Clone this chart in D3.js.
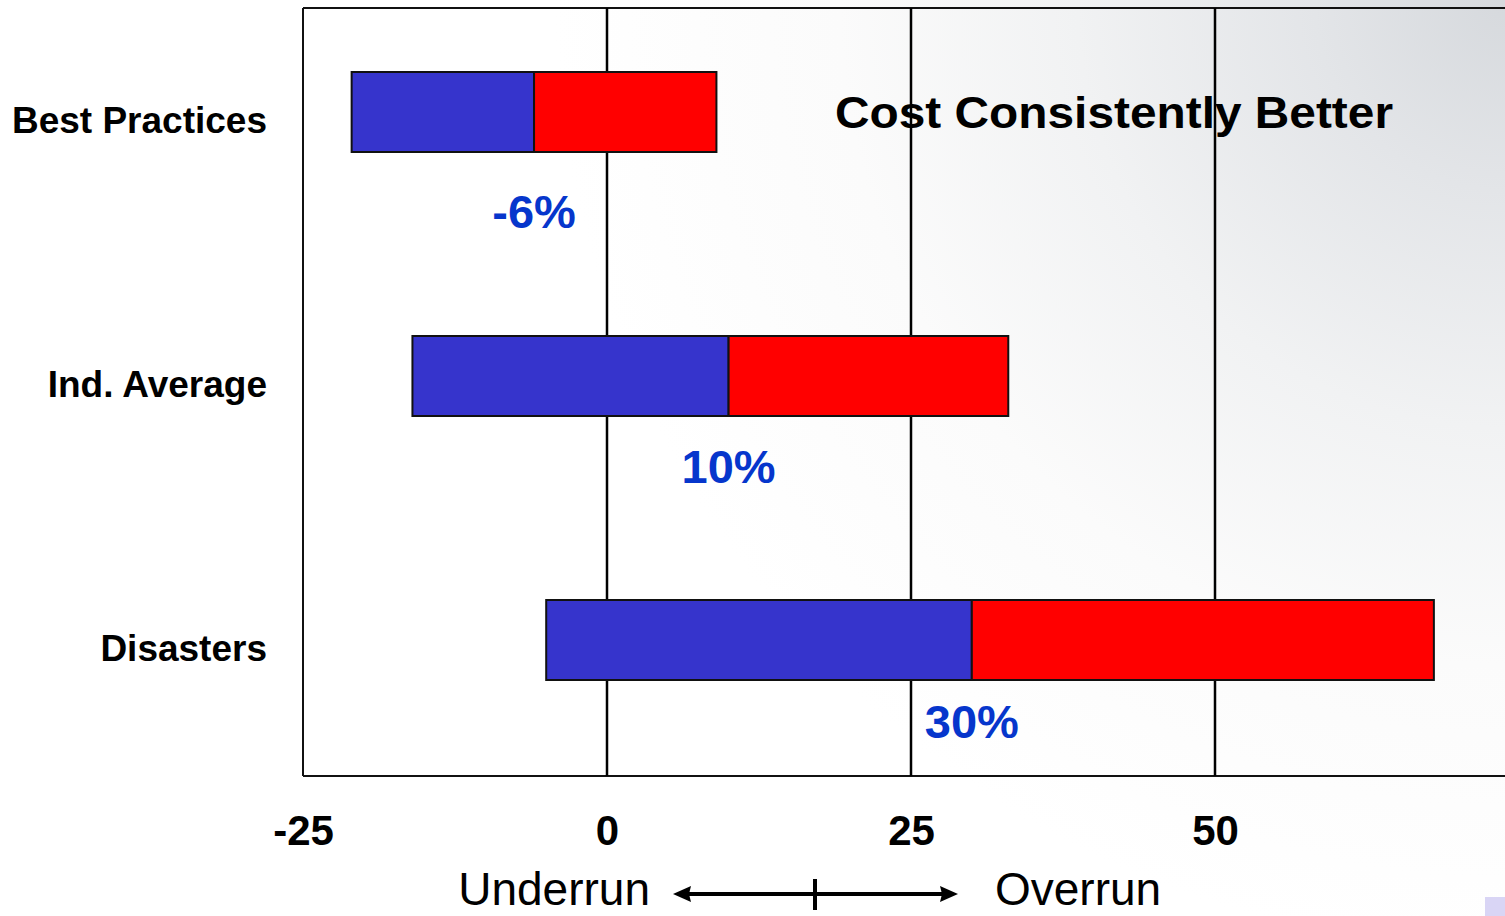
<!DOCTYPE html>
<html>
<head>
<meta charset="utf-8">
<script src="https://cdn.jsdelivr.net/npm/d3@7/dist/d3.min.js"></script>
<style>
  html, body { margin: 0; padding: 0; overflow: hidden; background: #fff; }
  svg { display: block; }
  text { font-family: "Liberation Sans", Arial, sans-serif; }
</style>
</head>
<body>
<svg id="chart" width="1505" height="916"></svg>
<script>
// Cost performance ranges (% over/under budget) by project group
const categories = ["Best Practices", "Ind. Average", "Disasters"];
const rangeLow   = [-21, -16, -5];
const rangeMid   = [-6, 10, 30];
const rangeHigh  = [9, 33, 68];
const midLabels  = ["-6%", "10%", "30%"];
const xTicks     = [-25, 0, 25, 50];
const gridValues = [0, 25, 50];
const title      = "Cost Consistently Better";

const W = 1505, H = 916;
const plot = { left: 303, top: 8, bottom: 776 };

const svg = d3.select("#chart");

// page background: soft grey wash from the upper right corner
const defs = svg.append("defs");
const bg = defs.append("radialGradient").attr("id", "bgGrad")
  .attr("gradientUnits", "userSpaceOnUse")
  .attr("cx", W).attr("cy", 0).attr("r", 950);
bg.append("stop").attr("offset", "0").attr("stop-color", "#d6d9dd");
bg.append("stop").attr("offset", "0.2").attr("stop-color", "#e3e5e8");
bg.append("stop").attr("offset", "0.45").attr("stop-color", "#f1f2f3");
bg.append("stop").attr("offset", "0.7").attr("stop-color", "#fbfbfb");
bg.append("stop").attr("offset", "1").attr("stop-color", "#ffffff");
svg.append("rect").attr("width", W).attr("height", H).attr("fill", "url(#bgGrad)");

const x = d3.scaleLinear().domain([-25, 75]).range([plot.left, plot.left + 1216]);
const yBar = d3.scalePoint().domain(categories).range([112, 640]);
const yCat = d3.scalePoint().domain(categories).range([133, 661]);
const yPct = d3.scalePoint().domain(categories).range([228, 738]);
const barH = 80;

// plot frame
const frame = svg.append("g");
frame.append("line").attr("x1", plot.left).attr("x2", W + 10)
  .attr("y1", plot.top).attr("y2", plot.top);
frame.append("line").attr("x1", plot.left).attr("x2", W + 10)
  .attr("y1", plot.bottom).attr("y2", plot.bottom);
frame.append("line").attr("x1", plot.left).attr("x2", plot.left)
  .attr("y1", plot.top).attr("y2", plot.bottom);
frame.selectAll("line").attr("stroke", "#111").attr("stroke-width", 2);

// vertical gridlines
svg.append("g").selectAll("line").data(gridValues).join("line")
  .attr("x1", d => x(d)).attr("x2", d => x(d))
  .attr("y1", plot.top).attr("y2", plot.bottom)
  .attr("stroke", "#000").attr("stroke-width", 2.5);

// title
svg.append("text")
  .attr("x", 835).attr("y", 128)
  .attr("font-size", 44).attr("font-weight", "bold")
  .attr("textLength", 558).attr("lengthAdjust", "spacingAndGlyphs")
  .attr("fill", "#000")
  .text(title);

const rows = categories.map((c, i) => ({
  cat: c, lo: rangeLow[i], mid: rangeMid[i], hi: rangeHigh[i], label: midLabels[i]
}));

// low-to-median segment (blue) and median-to-high segment (red)
const bars = svg.append("g");
bars.selectAll("rect.lo").data(rows).join("rect").attr("class", "lo")
  .attr("x", d => x(d.lo)).attr("width", d => x(d.mid) - x(d.lo))
  .attr("y", d => yBar(d.cat) - barH / 2).attr("height", barH)
  .attr("fill", "#3634cc").attr("stroke", "#111").attr("stroke-width", 2);
bars.selectAll("rect.hi").data(rows).join("rect").attr("class", "hi")
  .attr("x", d => x(d.mid)).attr("width", d => x(d.hi) - x(d.mid))
  .attr("y", d => yBar(d.cat) - barH / 2).attr("height", barH)
  .attr("fill", "#ff0000").attr("stroke", "#111").attr("stroke-width", 2);

// median labels
svg.append("g").selectAll("text").data(rows).join("text")
  .attr("x", d => x(d.mid)).attr("y", d => yPct(d.cat))
  .attr("text-anchor", "middle")
  .attr("font-size", 47).attr("font-weight", "bold")
  .attr("fill", "#0636cc")
  .text(d => d.label);

// category labels
svg.append("g").selectAll("text").data(categories).join("text")
  .attr("x", 267).attr("y", d => yCat(d))
  .attr("text-anchor", "end")
  .attr("font-size", 37).attr("font-weight", "bold")
  .attr("fill", "#000")
  .text(d => d);

// x axis tick labels
const xAxis = d3.axisBottom(x).tickValues(xTicks).tickSize(0).tickPadding(0)
  .tickFormat(d => String(d));
const ax = svg.append("g").attr("transform", `translate(0, ${plot.bottom})`).call(xAxis);
ax.select(".domain").remove();
ax.selectAll("text")
  .attr("y", 69).attr("dy", null)
  .attr("font-size", 42).attr("font-weight", "bold")
  .attr("font-family", "'Liberation Sans', Arial, sans-serif")
  .attr("fill", "#000");

// underrun / overrun direction indicator
const arrowY = 894;
const ind = svg.append("g");
ind.append("line").attr("x1", 688).attr("x2", 944)
  .attr("y1", arrowY).attr("y2", arrowY)
  .attr("stroke", "#000").attr("stroke-width", 4);
ind.append("path")
  .attr("d", `M673,${arrowY} L691,${arrowY - 8} L689,${arrowY} L691,${arrowY + 8} Z`)
  .attr("fill", "#000");
ind.append("path")
  .attr("d", `M958,${arrowY} L940,${arrowY - 8} L942,${arrowY} L940,${arrowY + 8} Z`)
  .attr("fill", "#000");
ind.append("line").attr("x1", 815).attr("x2", 815)
  .attr("y1", 879).attr("y2", 910)
  .attr("stroke", "#000").attr("stroke-width", 4);
ind.append("text").attr("x", 650).attr("y", 905).attr("text-anchor", "end")
  .attr("font-size", 46).attr("fill", "#000").text("Underrun");
ind.append("text").attr("x", 995).attr("y", 905)
  .attr("font-size", 46).attr("fill", "#000").text("Overrun");

// small corner marker
svg.append("rect").attr("x", 1485).attr("y", 897).attr("width", 25).attr("height", 25)
  .attr("fill", "#d9d5f5");
</script>
</body>
</html>
